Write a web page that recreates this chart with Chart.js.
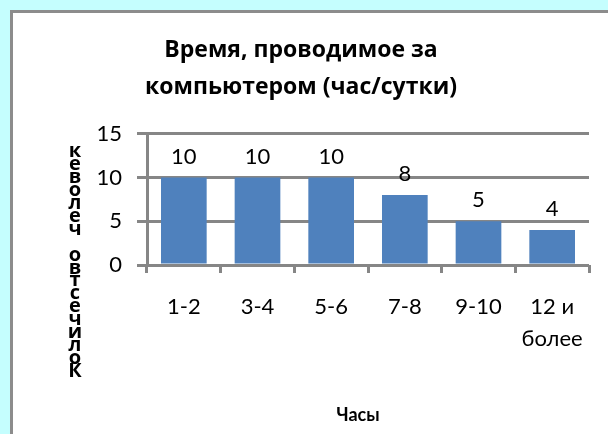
<!DOCTYPE html>
<html>
<head>
<meta charset="utf-8">
<script src="https://cdn.jsdelivr.net/npm/chart.js@4/dist/chart.umd.min.js"></script>
<style>
  html, body { margin: 0; padding: 0; background: #c5fefe; overflow: hidden; }
  #frame {
    position: absolute; left: 10px; top: 10px;
    width: 620px; height: 450px;
    border-left: 3px solid #8c8c8c; border-top: 3px solid #8c8c8c;
    background: #ffffff;
  }
  canvas { display: block; }
</style>
</head>
<body>
<div id="frame"><canvas id="chartHours" width="595" height="421"></canvas></div>
<script>
const categories = ["1-2", "3-4", "5-6", "7-8", "9-10", ["12 и", "более"]];
const people = [10, 10, 10, 8, 5, 4];
const yTicks = [0, 5, 10, 15];
const chartTitle = ["Время, проводимое за", "компьютером (час/сутки)"];
const xTitle = "Часы";
const yTitle = "Количество человек";

const FONT = "Lato, 'Open Sans', sans-serif";
const GRID = "#868686";

// values above the bars
const valueLabels = {
  id: "valueLabels",
  afterDatasetsDraw(chart) {
    const ctx = chart.ctx;
    const meta = chart.getDatasetMeta(0);
    ctx.save();
    ctx.font = "22px " + FONT;
    ctx.fillStyle = "#000";
    ctx.textAlign = "center";
    ctx.textBaseline = "middle";
    meta.data.forEach((bar, i) => {
      ctx.fillText(String(people[i]), bar.x, bar.y - 21);
    });
    ctx.restore();
  },
};

// axis titles: x below the labels, y as upright letters stacked bottom to top
const axisTitles = {
  id: "axisTitles",
  afterDraw(chart) {
    const ctx = chart.ctx;
    ctx.save();
    ctx.fillStyle = "#000";
    ctx.textAlign = "center";
    ctx.textBaseline = "middle";
    ctx.font = "bold 18px " + FONT;
    ctx.fillText(xTitle, 345, 402);
    const letters = [...yTitle];
    const step = 12.9;
    const yBottom = 358;
    ctx.font = "bold 20px 'Open Sans', sans-serif";
    letters.forEach((ch, i) => {
      ctx.fillText(ch, 62, yBottom - i * step);
    });
    ctx.restore();
  },
};

new Chart(document.getElementById("chartHours").getContext("2d"), {
  type: "bar",
  data: {
    labels: categories,
    datasets: [
      {
        data: people,
        backgroundColor: "#4f81bd",
        borderWidth: 0,
        categoryPercentage: 1,
        barPercentage: 0.62,
      },
    ],
  },
  options: {
    responsive: false,
    animation: false,
    layout: { padding: { left: 0, right: 19, top: 0, bottom: 0 } },
    plugins: {
      legend: { display: false },
      tooltip: { enabled: false },
      title: {
        display: true,
        text: chartTitle,
        color: "#000",
        font: { family: "'Open Sans', sans-serif", size: 23, weight: "bold", lineHeight: 1.65 },
        padding: { top: 18, bottom: 27 },
      },
    },
    scales: {
      x: {
        grid: {
          offset: true,
          drawOnChartArea: false,
          color: GRID,
          lineWidth: 3,
          tickLength: 8,
          tickColor: GRID,
        },
        border: { display: false },
        ticks: {
          color: "#000",
          font: { family: FONT, size: 22, lineHeight: 1.45 },
          padding: 18,
          maxRotation: 0,
        },
        afterFit(scale) {
          scale.height = 169;
        },
      },
      y: {
        min: 0,
        max: 15,
        afterBuildTicks(scale) {
          scale.ticks = yTicks.map((v) => ({ value: v }));
        },
        grid: {
          color: GRID,
          lineWidth: 3,
          tickLength: 10,
          tickColor: GRID,
        },
        border: { color: GRID, width: 3 },
        ticks: {
          color: "#000",
          font: { family: FONT, size: 22 },
          padding: 15,
        },
        afterFit(scale) {
          scale.width = 134;
        },
      },
    },
  },
  plugins: [valueLabels, axisTitles],
});
</script>
</body>
</html>
